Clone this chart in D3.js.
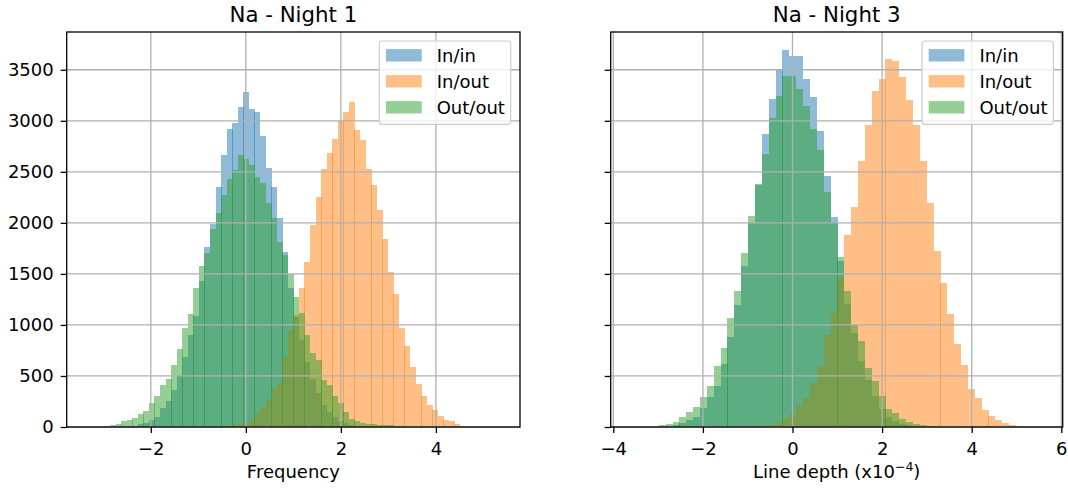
<!DOCTYPE html>
<html>
<head>
<meta charset="utf-8">
<script src="https://cdnjs.cloudflare.com/ajax/libs/d3/7.8.5/d3.min.js"></script>
<style>
  body { margin: 0; background: #fff; }
  text { font-family: "DejaVu Sans", sans-serif; fill: #000; }
</style>
</head>
<body>
<svg id="graph" width="1068" height="490"></svg>
<script>
// histogram bins: first edge and bin width (line depth, x10^-4)
var night1Start = -2.975;
var night1Width = 0.1169;
var night3Start = -2.984;
var night3Width = 0.1533;

// counts per bin, Night 1
var night1InIn = [0, 2, 4, 6, 9, 13, 29, 42, 72, 101, 189, 258, 365, 499, 688, 903, 1089, 1431, 1764, 1989,
  2351, 2663, 2917, 2976, 3132, 3279, 3120, 3084, 2849, 2536, 2351, 2047, 1714, 1362, 1080, 850, 640, 470,
  330, 220, 150, 95, 60, 35, 20, 10, 5];
var night1InOut = [0, 0, 0, 0, 0, 0, 0, 0, 0, 0, 0, 0, 0, 0, 0, 0, 0, 0, 3, 5,
  6, 9, 13, 20, 26, 39, 65, 127, 199, 267, 372, 430, 685, 952, 1099, 1362, 1617, 1975, 2252, 2526,
  2686, 2820, 3000, 3088, 3182, 2907, 2816, 2523, 2367, 2125, 1838, 1515, 1303, 967, 795, 586, 423, 306,
  220, 170, 104, 72, 55, 29, 13];
var night1OutOut = [13, 23, 29, 55, 72, 91, 130, 160, 238, 306, 408, 473, 610, 766, 971, 1105, 1363, 1578,
  1705, 1939, 2095, 2269, 2428, 2516, 2663, 2624, 2566, 2448, 2390, 2194, 2047, 1812, 1685, 1500, 1273,
  1118, 903, 724, 659, 463, 414, 300, 234, 147, 80, 55, 39, 30, 25, 20, 18, 15, 10, 6];

// counts per bin, Night 3
var night3InIn = [10, 13, 19, 42, 71, 100, 189, 296, 404, 619, 883, 1196, 1577, 2001, 2380, 2867, 3218, 3508,
  3690, 3632, 3632, 3406, 3229, 2897, 2458, 2058, 1628, 1205, 917, 651, 462, 306, 176, 100, 55, 30, 15, 7];
var night3InOut = [0, 0, 0, 0, 0, 0, 0, 0, 0, 0, 0, 0, 2, 4, 6, 13, 20, 39, 88, 130, 208, 283, 430, 599,
  903, 1131, 1474, 1881, 2157, 2604, 2956, 3289, 3406, 3602, 3586, 3430, 3201, 2963, 2605, 2195, 1725,
  1410, 1106, 815, 608, 375, 285, 171, 110, 68, 39, 22, 10];
var night3OutOut = [19, 26, 52, 94, 150, 192, 296, 404, 600, 776, 1069, 1333, 1704, 2066, 2370, 2673, 3024,
  3240, 3436, 3436, 3316, 3142, 2920, 2711, 2301, 2002, 1666, 1336, 997, 844, 577, 453, 300, 176, 137,
  81, 45, 26, 19, 13];

var seriesNames = ["In/in", "In/out", "Out/out"];
var seriesColors = ["#1f77b4", "#ff7f0e", "#2ca02c"];
var titles = ["Na - Night 1", "Na - Night 3"];
var xLabels = ["Frequency", "Line depth (x10"];
var yTicks = [0, 500, 1000, 1500, 2000, 2500, 3000, 3500];
var night1XTicks = [-2, 0, 2, 4];
var night3XTicks = [-4, -2, 0, 2, 4, 6];

var svg = d3.select("#graph");
var plotTop = 32;
var plotBottom = 427;
var yMax = 3870;
var labelSize = 18;

var yScale = d3.scaleLinear().domain([0, yMax]).range([plotBottom, plotTop]);

var drawPanel = function (p) {
  var xScale = d3.scaleLinear().domain(p.xDomain).range([p.left, p.right]);
  var g = svg.append("g");

  var binPx = Math.round(xScale(p.start + p.width) - xScale(p.start));

  // bars, one series after the other
  p.series.forEach(function (counts, s) {
    var bins = counts.map(function (c, i) {
      return { x0: p.start + i * p.width, count: c };
    });
    g.append("g")
      .selectAll("rect")
      .data(bins.filter(function (b) { return b.count > 0; }))
      .enter()
      .append("rect")
      .attr("x", function (b) { return Math.round(xScale(b.x0)); })
      .attr("width", binPx)
      .attr("y", function (b) { return Math.round(yScale(b.count)); })
      .attr("height", function (b) { return plotBottom - Math.round(yScale(b.count)); })
      .attr("fill", seriesColors[s])
      .attr("fill-opacity", 0.5)
      .attr("shape-rendering", "crispEdges");
  });

  // grid
  g.append("g")
    .selectAll("line")
    .data(yTicks)
    .enter()
    .append("line")
    .attr("x1", p.left).attr("x2", p.right)
    .attr("y1", function (d) { return yScale(d); })
    .attr("y2", function (d) { return yScale(d); })
    .attr("stroke", "#b0b0b0")
    .attr("stroke-width", 1.3);
  g.append("g")
    .selectAll("line")
    .data(p.xTicks)
    .enter()
    .append("line")
    .attr("x1", function (d) { return xScale(d); })
    .attr("x2", function (d) { return xScale(d); })
    .attr("y1", plotTop).attr("y2", plotBottom)
    .attr("stroke", "#b0b0b0")
    .attr("stroke-width", 1.3);

  // axes
  var xAxis = g.append("g")
    .attr("transform", "translate(0," + plotBottom + ")")
    .call(d3.axisBottom(xScale).tickValues(p.xTicks).tickSize(6).tickSizeOuter(0).tickPadding(9)
      .tickFormat(d3.format("d")));
  var yAxis = g.append("g")
    .attr("transform", "translate(" + p.left + ",0)")
    .call(d3.axisLeft(yScale).tickValues(yTicks).tickSize(6).tickSizeOuter(0).tickPadding(7)
      .tickFormat(p.showY ? d3.format("d") : function () { return ""; }));
  [xAxis, yAxis].forEach(function (a) {
    a.select(".domain").remove();
    a.selectAll("line").attr("stroke", "#000").attr("stroke-width", 1.3);
    a.selectAll("text").attr("font-family", "DejaVu Sans").attr("font-size", labelSize).attr("fill", "#000");
  });

  // frame
  g.append("rect")
    .attr("x", p.left).attr("y", plotTop)
    .attr("width", p.right - p.left).attr("height", plotBottom - plotTop)
    .attr("fill", "none")
    .attr("stroke", "#000")
    .attr("stroke-width", 1.3);

  // title and x label
  var cx = (p.left + p.right) / 2;
  g.append("text")
    .attr("x", cx).attr("y", 21.7)
    .attr("text-anchor", "middle")
    .attr("font-size", 21.3)
    .text(p.title);
  var lab = g.append("text")
    .attr("x", cx).attr("y", 478)
    .attr("text-anchor", "middle")
    .attr("font-size", labelSize)
    .text(p.xLabel);
  if (p.power) {
    lab.append("tspan").attr("font-size", 12.5).attr("dy", -7).text(p.power);
    lab.append("tspan").attr("dy", 7).text(")");
  }

  // legend
  var boxRight = p.right - 9.3;
  var boxLeft = boxRight - 131.4;
  var leg = g.append("g");
  leg.append("rect")
    .attr("x", boxLeft).attr("y", 41)
    .attr("width", boxRight - boxLeft).attr("height", 83.3)
    .attr("rx", 3)
    .attr("fill", "#fff").attr("fill-opacity", 0.8)
    .attr("stroke", "#cccccc").attr("stroke-width", 1.2);
  seriesNames.forEach(function (name, i) {
    var cy = 55.3 + 26 * i;
    leg.append("rect")
      .attr("x", boxLeft + 6.7).attr("y", cy - 6.2)
      .attr("width", 35.7).attr("height", 12.4)
      .attr("fill", seriesColors[i]).attr("fill-opacity", 0.5);
    leg.append("text")
      .attr("x", boxLeft + 57.4).attr("y", cy)
      .attr("dy", "0.36em")
      .attr("font-size", labelSize)
      .text(name);
  });
};

drawPanel({
  left: 66.7, right: 520, xDomain: [-3.77, 5.77],
  start: night1Start, width: night1Width,
  series: [night1InIn, night1InOut, night1OutOut],
  xTicks: night1XTicks, showY: true,
  title: titles[0], xLabel: xLabels[0]
});

drawPanel({
  left: 610.7, right: 1062.7, xDomain: [-4.058, 6.031],
  start: night3Start, width: night3Width,
  series: [night3InIn, night3InOut, night3OutOut],
  xTicks: night3XTicks, showY: false,
  title: titles[1], xLabel: xLabels[1], power: "\u22124"
});
</script>
</body>
</html>
